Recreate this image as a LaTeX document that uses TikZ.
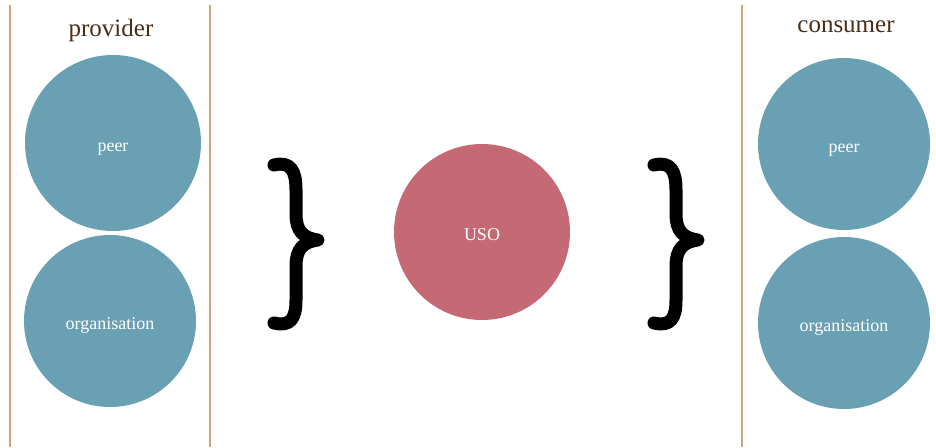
\documentclass[tikz,border=0pt]{standalone}
\usepackage{fontspec}
\setmainfont{Liberation Serif}
\definecolor{blueC}{HTML}{6AA0B4}
\definecolor{redC}{HTML}{C56A74}
\definecolor{lineC}{HTML}{D2A47C}
\definecolor{titleC}{HTML}{4A2E1A}
\tikzset{
  circbase/.style={circle, draw=none, inner sep=0pt, text=white, font=\fontsize{18}{20}\selectfont, text height=17pt, text depth=1pt},
  bluecirc/.style={circbase, fill=blueC},
  redcirc/.style={circbase, fill=redC},
  title/.style={text=titleC, font=\fontsize{25}{28}\selectfont, inner sep=0pt},
  divider/.style={draw=lineC, line width=1.5pt},
  bracestroke/.style={line width=13pt, line cap=round, line join=round, black}
}
\begin{document}
\begin{tikzpicture}[x=1pt,y=-1pt]
\useasboundingbox (0,0) rectangle (936,447);
\fill[white] (0,0) rectangle (936,447);
% dividers
\coordinate (l1t) at (10,5); \coordinate (l1b) at (10,447);
\coordinate (l2t) at (210,5); \coordinate (l2b) at (210,447);
\coordinate (l3t) at (742,5); \coordinate (l3b) at (742,447);
\draw[divider] (l1t) -- (l1b);
\draw[divider] (l2t) -- (l2b);
\draw[divider] (l3t) -- (l3b);
% titles
\node[title] (provider) at (111,30) {provider};
\node[title] (consumer) at (846,27) {consumer};
% circles
\node[bluecirc, minimum size=176pt] (ppeer) at (113,143) {peer};
\node[bluecirc, minimum size=172pt] (porg) at (110,321) {organisation};
\node[redcirc, minimum size=176pt] (uso) at (482,232) {USO};
\node[bluecirc, minimum size=172pt] (cpeer) at (844,144) {peer};
\node[bluecirc, minimum size=172pt] (corg) at (844,323) {organisation};
% braces
\foreach \dx in {0,380}{
\begin{scope}[xshift=\dx]
\draw[bracestroke] (274,165) .. controls (291,161) and (296,171) .. (296,190)
  -- (296,214) .. controls (296,231) and (303,238) .. (318,240)
  .. controls (303,242) and (296,249) .. (296,266)
  -- (296,300) .. controls (296,318) and (291,327) .. (274,323);
\end{scope}
}
\end{tikzpicture}
\end{document}
